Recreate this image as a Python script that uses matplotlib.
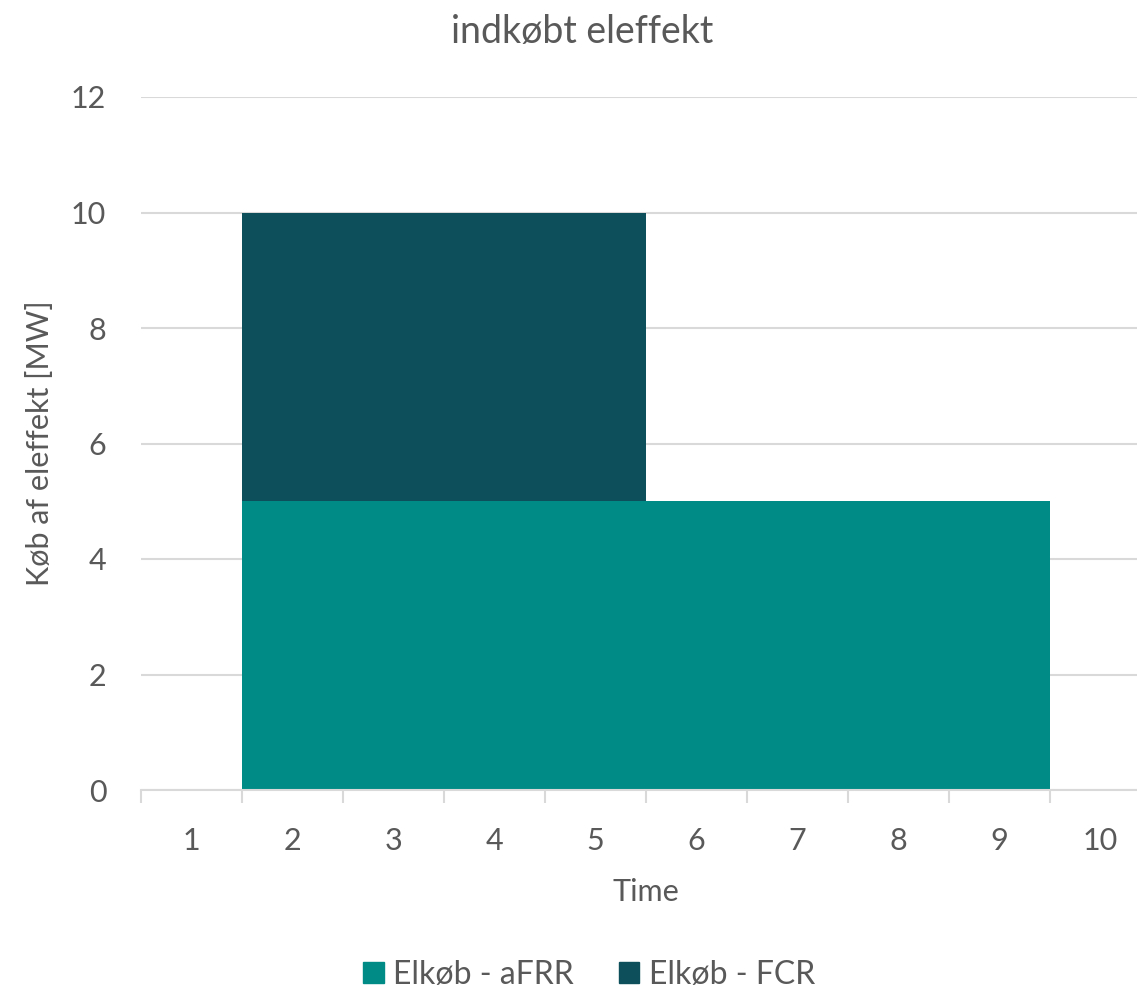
import numpy as np
import matplotlib
matplotlib.use("Agg")
import matplotlib.pyplot as plt
from matplotlib.patches import Patch

# Indkøbt eleffekt pr. time (stablet)
timer = [1, 2, 3, 4, 5, 6, 7, 8, 9, 10]
elkob_afrr = [0, 5, 5, 5, 5, 5, 5, 5, 5, 0]
elkob_fcr = [0, 5, 5, 5, 5, 0, 0, 0, 0, 0]
y_ticks = [0, 2, 4, 6, 8, 10, 12]

FARVE_AFRR = "#008b87"
FARVE_FCR = "#0d505b"
TEKST = "#595959"
GRID = "#d9d9d9"

plt.rcParams["font.family"] = ["Lato", "DejaVu Sans"]

fig = plt.figure(figsize=(11.37, 9.91), dpi=100)
ax = fig.add_axes([141 / 1137, 1 - 790 / 991, 1010 / 1137, (790 - 97) / 991])

edges = np.arange(len(timer) + 1)
afrr = np.array(elkob_afrr, dtype=float)
fcr = np.array(elkob_fcr, dtype=float)
ax.stairs(afrr, edges, baseline=0, fill=True, color=FARVE_AFRR, zorder=2)
ax.stairs(afrr + fcr, edges, baseline=afrr, fill=True, color=FARVE_FCR, zorder=2)

ax.set_xlim(0, len(timer))
ax.set_ylim(0, 12)
ax.set_yticks(y_ticks)
ax.yaxis.grid(True, color=GRID, linewidth=1.5, zorder=0)
ax.set_axisbelow(True)

# tick-streger mellem kategorierne, etiketter midt i
ax.set_xticks(edges)
ax.set_xticklabels([])
ax.set_xticks(edges[:-1] + 0.5, minor=True)
ax.set_xticklabels([str(t) for t in timer], minor=True)
ax.tick_params(axis="x", which="major", length=9, width=1.5, color=GRID, direction="out")
ax.tick_params(axis="x", which="minor", length=0, pad=27, labelsize=22, labelcolor=TEKST)
ax.tick_params(axis="y", length=0, pad=25, labelsize=22, labelcolor=TEKST)

for side in ["top", "right", "left"]:
    ax.spines[side].set_visible(False)
ax.spines["bottom"].set_color(GRID)
ax.spines["bottom"].set_linewidth(1.5)

ax.set_xlabel("Time", fontsize=22, color=TEKST, labelpad=16)
ax.set_ylabel("Køb af eleffekt [MW]", fontsize=22, color=TEKST, labelpad=12)
fig.text(582 / 1137, 1 - 32 / 991, "indkøbt eleffekt", ha="center", va="center",
         fontsize=27, color=TEKST)

handles = [Patch(color=FARVE_AFRR, label="Elkøb - aFRR"),
           Patch(color=FARVE_FCR, label="Elkøb - FCR")]
fig.legend(handles=handles, loc="center", bbox_to_anchor=(589 / 1137, 1 - 975 / 991),
           ncol=2, frameon=False, fontsize=23, labelcolor=TEKST,
           handlelength=0.65, handleheight=0.65, handletextpad=0.3, columnspacing=1.4)

fig.savefig("out.png", dpi=100)
